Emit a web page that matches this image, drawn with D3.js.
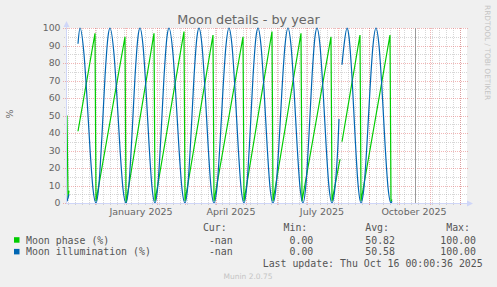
<!DOCTYPE html>
<html>
<head>
<meta charset="utf-8">
<script src="https://cdn.jsdelivr.net/npm/d3@7"></script>
<style>
body { margin: 0; background: #f0f0f0; }
svg { display: block; }
text { font-family: "DejaVu Sans", sans-serif; fill: #666; }
.mono { font-family: "DejaVu Sans Mono", monospace; font-size: 9.9px; fill: #555; }
</style>
</head>
<body>
<svg id="chart"></svg>
<script>
// moon phase (%), green sawtooth
var phaseDates = ["2024-11-03","2024-11-04","2024-11-05","2024-11-06","2024-11-14","2024-12-01","2024-12-02",
  "2024-12-31","2025-01-01","2025-01-29","2025-01-30","2025-02-28","2025-03-01","2025-03-29","2025-03-30",
  "2025-04-28","2025-04-29","2025-05-27","2025-05-28","2025-06-25","2025-06-26","2025-07-25","2025-07-26",
  "2025-08-03","2025-08-04","2025-08-05","2025-08-23","2025-08-24","2025-09-22","2025-09-23","2025-09-24"];
var phaseValues = [50, 3, 7, null, 41, 97, 1,
  95, 0, 97, 1, 98, 1, 96, 1,
  95, 1, 98, 1, 97, 1, 95, 1,
  25, null, 35, 96, 1, 96, 1, 2];

// moon illumination (%), blue
var illumDates = ["2024-11-03","2024-11-04","2024-11-05","2024-11-06",
  "2024-11-14","2024-11-16","2024-11-20","2024-11-23","2024-11-26","2024-11-29","2024-12-02",
  "2024-12-05","2024-12-08","2024-12-11","2024-12-14","2024-12-16","2024-12-20","2024-12-23","2024-12-26","2024-12-29",
  "2025-01-01","2025-01-04","2025-01-07","2025-01-10","2025-01-13","2025-01-15","2025-01-18","2025-01-21","2025-01-24","2025-01-27",
  "2025-01-30","2025-02-02","2025-02-05","2025-02-08","2025-02-11","2025-02-13","2025-02-17","2025-02-20","2025-02-23","2025-02-26",
  "2025-03-01","2025-03-04","2025-03-07","2025-03-10","2025-03-13","2025-03-15","2025-03-18","2025-03-21","2025-03-24","2025-03-27",
  "2025-03-30","2025-04-02","2025-04-05","2025-04-08","2025-04-11","2025-04-14","2025-04-17","2025-04-20","2025-04-23","2025-04-26",
  "2025-04-29","2025-05-02","2025-05-05","2025-05-08","2025-05-11","2025-05-13","2025-05-16","2025-05-19","2025-05-22","2025-05-25",
  "2025-05-28","2025-05-31","2025-06-03","2025-06-06","2025-06-09","2025-06-12","2025-06-15","2025-06-18","2025-06-21","2025-06-24",
  "2025-06-27","2025-06-30","2025-07-03","2025-07-06","2025-07-09","2025-07-11","2025-07-14","2025-07-17","2025-07-20","2025-07-23",
  "2025-07-26","2025-07-29","2025-08-01","2025-08-02","2025-08-03","2025-08-05","2025-08-07","2025-08-10",
  "2025-08-12","2025-08-15","2025-08-18","2025-08-21","2025-08-24","2025-08-27","2025-08-30","2025-09-02","2025-09-05","2025-09-08",
  "2025-09-11","2025-09-14","2025-09-17","2025-09-20","2025-09-23","2025-09-24"];
var illumValues = [1, 3, 5, null,
  91, 100, 85, 60, 31, 8, 0,
  11, 39, 72, 95, 100, 85, 60, 31, 8,
  0, 11, 39, 72, 95, 100, 90, 65, 34, 9,
  0, 11, 39, 72, 95, 100, 85, 60, 31, 8,
  0, 11, 39, 72, 95, 100, 90, 65, 34, 9,
  0, 9, 34, 65, 90, 100, 90, 65, 34, 9,
  0, 11, 39, 72, 95, 100, 90, 65, 34, 9,
  0, 9, 34, 65, 90, 100, 90, 65, 34, 9,
  0, 11, 39, 72, 95, 100, 90, 65, 34, 9,
  0, 9, 34, 48, null, 79, 90, 100,
  95, 72, 39, 11, 0, 9, 34, 65, 90, 100,
  90, 65, 34, 9, 0, 1];

var yTicks = [0, 10, 20, 30, 40, 50, 60, 70, 80, 90, 100];
var yMinor = [5, 15, 25, 35, 45, 55, 65, 75, 85, 95];
var xLabels = ["2025-01-01", "2025-04-01", "2025-07-01", "2025-10-01"];

var seriesNames = ["Moon phase (%)", "Moon illumination (%)"];
var seriesColors = ["#00cc00", "#0066b3"];
var curVals = ["-nan", "-nan"];
var minVals = ["0.00", "0.00"];
var avgVals = ["50.82", "50.58"];
var maxVals = ["100.00", "100.00"];
var lastUpdate = "Last update: Thu Oct 16 00:00:36 2025";
var nowMark = "2025-10-17";

var width = 497, height = 287;
var parse = d3.timeParse("%Y-%m-%d");

var svg = d3.select("#chart").attr("width", width).attr("height", height);
svg.append("rect").attr("width", width).attr("height", height).attr("fill", "#f0f0f0");

var x = d3.scaleTime()
    .domain([parse("2024-11-03"), parse("2025-12-08")])
    .range([67, 467]);
var y = d3.scaleLinear().domain([0, 100]).range([203, 28]);

// canvas
svg.append("rect").attr("x", 67).attr("y", 28).attr("width", 400).attr("height", 175).attr("fill", "#fff");

var grid = svg.append("g");
var minorCol = "rgba(150,150,150,0.38)", majorCol = "rgba(225,80,80,0.42)";

// weekly minor grid
var start = x.domain()[0], end = x.domain()[1];
d3.timeMonday.range(start, end).forEach(function (d) {
  var px = Math.round(x(d)) + 0.5;
  grid.append("line").attr("x1", px).attr("x2", px).attr("y1", 28).attr("y2", 205)
    .attr("stroke", minorCol).attr("stroke-dasharray", "1,1");
});
yMinor.forEach(function (v) {
  var py = Math.round(y(v)) + 0.5;
  grid.append("line").attr("x1", 64).attr("x2", 468).attr("y1", py).attr("y2", py)
    .attr("stroke", minorCol).attr("stroke-dasharray", "1,1");
});
// monthly major grid
d3.timeMonth.range(d3.timeMonth.ceil(start), end).forEach(function (d) {
  var px = Math.round(x(d)) + 0.5;
  grid.append("line").attr("x1", px).attr("x2", px).attr("y1", 28).attr("y2", 206)
    .attr("stroke", majorCol).attr("stroke-dasharray", "1,1");
});
yTicks.forEach(function (v) {
  var py = Math.round(y(v)) + 0.5;
  grid.append("line").attr("x1", 63).attr("x2", 468).attr("y1", py).attr("y2", py)
    .attr("stroke", majorCol).attr("stroke-dasharray", "1,1");
});

// y labels
svg.append("g").selectAll("text").data(yTicks).enter().append("text")
  .attr("x", 60.5).attr("y", function (d) { return y(d) + 3.4; })
  .attr("text-anchor", "end").style("font-size", "9.3px")
  .text(function (d) { return d; });

// x labels, centred on the middle of the month
svg.append("g").selectAll("text").data(xLabels).enter().append("text")
  .attr("x", function (d) { return x(d3.timeDay.offset(parse(d), 15)); })
  .attr("y", 215).attr("text-anchor", "middle").style("font-size", "9.5px")
  .text(function (d) { return d3.timeFormat("%B %Y")(parse(d)); });

// data lines
function points(dates, vals) {
  return dates.map(function (d, i) { return { t: parse(d), v: vals[i] }; });
}
var linePhase = d3.line()
  .defined(function (d) { return d.v != null; })
  .x(function (d) { return x(d.t); })
  .y(function (d) { return y(d.v); });
var lineIllum = d3.line()
  .defined(function (d) { return d.v != null; })
  .x(function (d) { return x(d.t); })
  .y(function (d) { return y(d.v); })
  .curve(d3.curveMonotoneX);

svg.append("path").datum(points(phaseDates, phaseValues))
  .attr("d", linePhase).attr("fill", "none").attr("stroke", seriesColors[0]).attr("stroke-width", 1.2);
svg.append("path").datum(points(illumDates, illumValues))
  .attr("d", lineIllum).attr("fill", "none").attr("stroke", seriesColors[1]).attr("stroke-width", 1.2);

// now marker
var nx = Math.round(x(parse(nowMark))) + 0.5;
svg.append("line").attr("x1", nx).attr("x2", nx).attr("y1", 28).attr("y2", 203)
  .attr("stroke", "#999").attr("stroke-width", 1);

// axes and arrows
var axisCol = "#cfd6f8";
svg.append("line").attr("x1", 66.5).attr("x2", 66.5).attr("y1", 204).attr("y2", 25).attr("stroke", axisCol);
svg.append("line").attr("x1", 66).attr("x2", 469).attr("y1", 203.5).attr("y2", 203.5).attr("stroke", axisCol);
svg.append("path").attr("d", "M66.5,21L63.5,27L69.5,27Z").attr("fill", axisCol);
svg.append("path").attr("d", "M473,203.5L467,200.5L467,206.5Z").attr("fill", axisCol);

// title and side texts
svg.append("text").attr("x", 248.5).attr("y", 24).attr("text-anchor", "middle")
  .style("font-size", "12.8px").text("Moon details - by year");
svg.append("text").attr("transform", "translate(13,114) rotate(-90)").attr("text-anchor", "middle")
  .style("font-size", "9.5px").text("%");
svg.append("text").attr("transform", "translate(485,5) rotate(90)").attr("text-anchor", "start")
  .style("font-size", "7.4px").style("fill", "#c4c4c4").text("RRDTOOL / TOBI OETIKER");

// legend
var legend = svg.append("g");
var colEnds = [226.7, 307.3, 389, 470];
["Cur:", "Min:", "Avg:", "Max:"].forEach(function (h, i) {
  legend.append("text").attr("class", "mono").attr("x", colEnds[i]).attr("y", 231)
    .attr("text-anchor", "end").text(h);
});
var rowY = [243.5, 255.2];
seriesNames.forEach(function (name, i) {
  legend.append("rect").attr("x", 14).attr("y", rowY[i] - 6.3).attr("width", 5.5).attr("height", 5.5)
    .attr("fill", seriesColors[i]);
  legend.append("text").attr("class", "mono").attr("x", 26).attr("y", rowY[i]).text(name);
  [curVals[i], minVals[i], avgVals[i], maxVals[i]].forEach(function (v, j) {
    legend.append("text").attr("class", "mono").attr("x", colEnds[j] + 6).attr("y", rowY[i])
      .attr("text-anchor", "end").text(v);
  });
});
legend.append("text").attr("class", "mono").attr("x", 482.7).attr("y", 266.8)
  .attr("text-anchor", "end").text(lastUpdate);
svg.append("text").attr("x", 248).attr("y", 279).attr("text-anchor", "middle")
  .style("font-size", "7.5px").style("fill", "#c4c4c4").text("Munin 2.0.75");
</script>
</body>
</html>
